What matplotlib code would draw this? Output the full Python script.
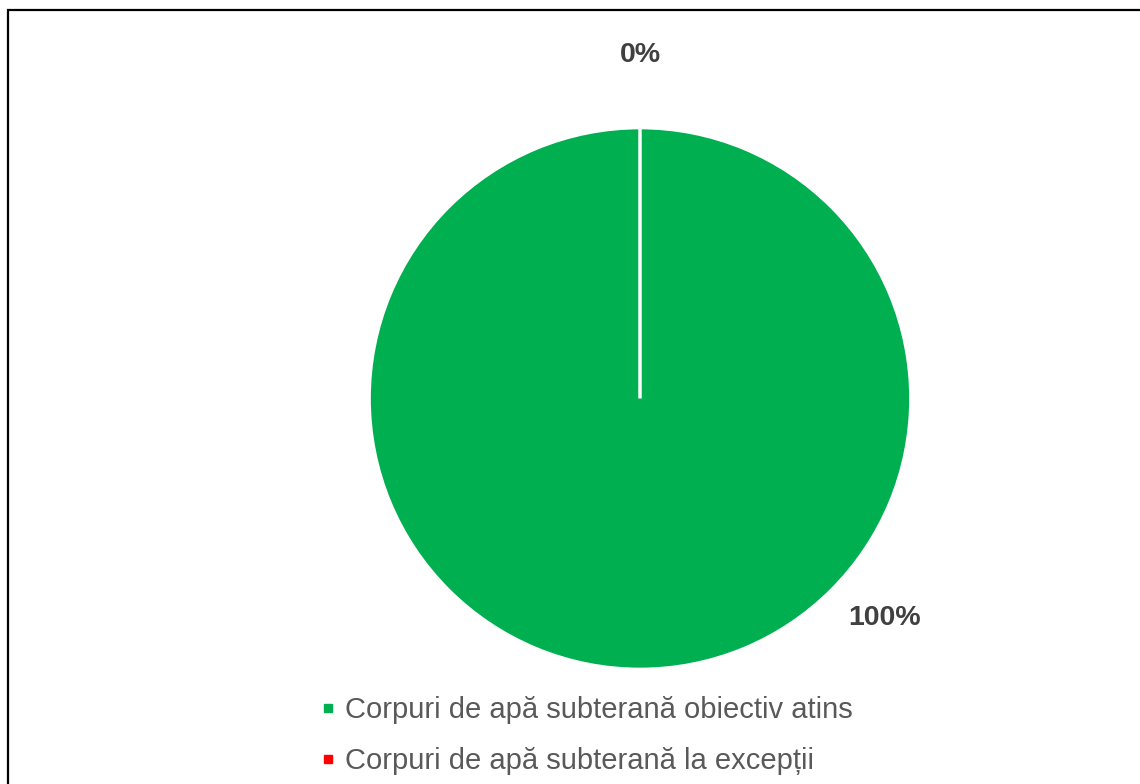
import matplotlib
matplotlib.use('Agg')
import matplotlib.pyplot as plt
from matplotlib.lines import Line2D
from matplotlib.patches import Rectangle
import numpy as np

categories = ['Corpuri de apă subterană obiectiv atins',
              'Corpuri de apă subterană la excepții']
values = [100, 0]
pct_labels = ['100%', '0%']
colors = ['#00B050', '#FF0000']

plt.rcParams['font.family'] = ['Liberation Sans', 'DejaVu Sans']

W, H = 1140, 784
fig = plt.figure(figsize=(W / 100, H / 100), dpi=100)

# outer frame (left and top edges visible, rest runs off the image)
fig.patches.append(Rectangle((8 / W, -0.05), 1.2, 1 - 10 / H + 0.05,
                             transform=fig.transFigure, fill=False,
                             edgecolor='black', linewidth=1.6))

cx, cy, r = 640, 398.5, 269
ax = fig.add_axes([(cx - r) / W, 1 - (cy + r) / H, 2 * r / W, 2 * r / H])
wedges, _ = ax.pie(values, colors=colors, startangle=90, counterclock=False,
                   radius=1, wedgeprops=dict(edgecolor='white', linewidth=2.5))
ax.set_xlim(-0.993, 0.993)
ax.set_ylim(-0.993, 0.993)
ax.axis('off')

# data labels (angle in degrees, distance from centre in radii)
lab_ang = [-41.9, 90]
lab_dist = [1.213, 1.268]
for t, a, d in zip(pct_labels, lab_ang, lab_dist):
    ax.text(d * np.cos(np.radians(a)), d * np.sin(np.radians(a)), t,
            ha='center', va='center', fontsize=20.5, fontweight='bold',
            color='#404040')

handles = [Line2D([], [], linestyle='none', marker='s', markersize=6,
                  markerfacecolor=c, markeredgecolor=c) for c in colors]
leg = fig.legend(handles, categories, loc='upper left',
                 bbox_to_anchor=(322 / W, 1 - 696 / H), frameon=False,
                 fontsize=21, handlelength=0.4, handletextpad=0.4,
                 labelspacing=0.79, borderpad=0, borderaxespad=0)
for txt in leg.get_texts():
    txt.set_color('#595959')

plt.savefig('out.png', dpi=100)
plt.close()
